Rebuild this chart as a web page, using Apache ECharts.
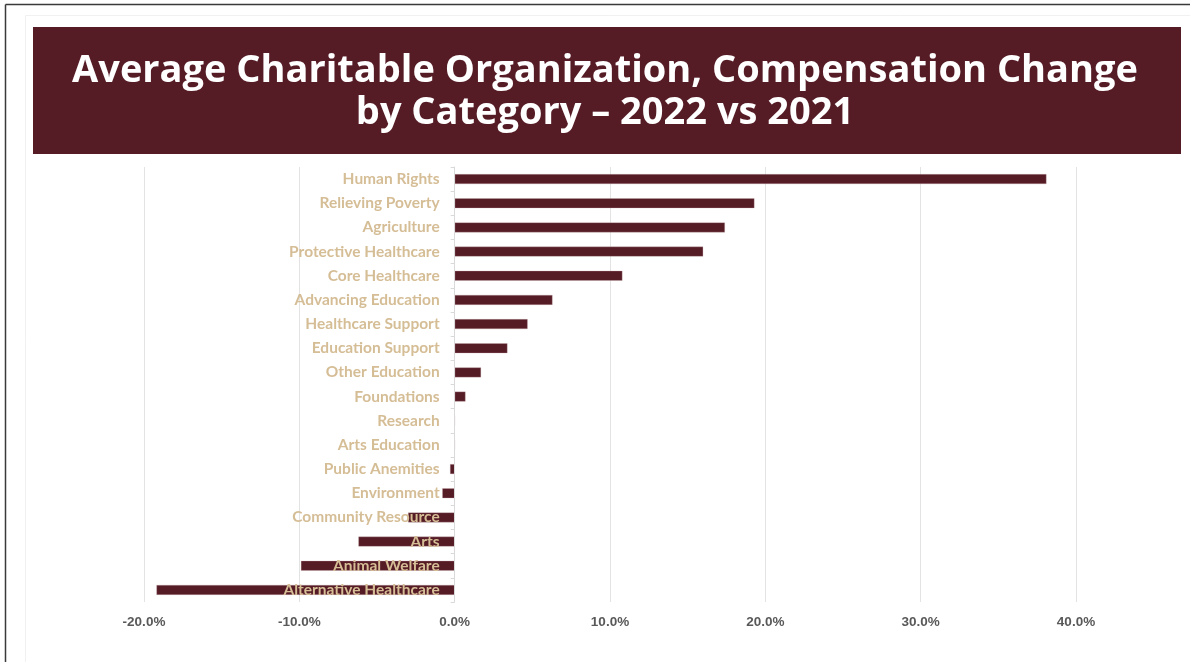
<!DOCTYPE html>
<html>
<head>
<meta charset="utf-8">
<script src="https://cdn.jsdelivr.net/npm/echarts@6/dist/echarts.min.js"></script>
<style>
  html, body { margin: 0; padding: 0; background: #ffffff; }
  #chart { width: 1190px; height: 662px; }
</style>
</head>
<body>
<div id="chart"></div>
<script>
// Categories, top to bottom
const categories = [
  'Human Rights', 'Relieving Poverty', 'Agriculture', 'Protective Healthcare',
  'Core Healthcare', 'Advancing Education', 'Healthcare Support', 'Education Support',
  'Other Education', 'Foundations', 'Research', 'Arts Education',
  'Public Anemities', 'Environment', 'Community Resource', 'Arts',
  'Animal Welfare', 'Alternative Healthcare'
];
// Average compensation change 2022 vs 2021, in percent
const changePct = [
  38.1, 19.3, 17.4, 16.0,
  10.8, 6.3, 4.7, 3.4,
  1.7, 0.7, 0, 0,
  -0.3, -0.8, -3.0, -6.2,
  -9.9, -19.2
];
// Value axis ticks, in percent
const tickMin = -20;
const tickMax = 40;
const tickStep = 10;

const MAROON = '#561c26';
const TAN = '#d5bd96';

// plot area
const GRID = { left: 144, right: 114, top: 167, bottom: 60 };
const plotWidth = 1190 - GRID.left - GRID.right;
// the category axis sits on the zero line of the value axis
const zeroOffset = -plotWidth * (0 - tickMin) / (tickMax - tickMin);

const chart = echarts.init(document.getElementById('chart'), null, { renderer: 'canvas' });

chart.setOption({
  backgroundColor: '#ffffff',
  animation: false,
  title: {
    text: 'Average Charitable Organization, Compensation Change\nby Category \u2013 2022 vs 2021',
    left: 600,
    top: 45,
    textAlign: 'center',
    textStyle: {
      color: '#ffffff',
      fontFamily: 'Open Sans',
      fontWeight: 'bold',
      fontSize: 38,
      lineHeight: 42
    }
  },
  graphic: [
    // page frame (top and left edges)
    { type: 'line', z: 0, shape: { x1: 5.5, y1: 4.5, x2: 1190, y2: 4.5 }, style: { stroke: '#3a3a3a', lineWidth: 1.5 } },
    { type: 'line', z: 0, shape: { x1: 5.5, y1: 4.5, x2: 5.5, y2: 662 }, style: { stroke: '#3a3a3a', lineWidth: 1.5 } },
    // faint chart-area outline
    { type: 'rect', z: 0, shape: { x: 25.5, y: 15.5, width: 1180, height: 700 }, style: { fill: 'none', stroke: '#f1f1f1', lineWidth: 1 } },
    // title banner
    { type: 'rect', z: 0, shape: { x: 33, y: 27, width: 1148, height: 127 }, style: { fill: MAROON } }
  ],
  grid: {
    left: GRID.left,
    right: GRID.right,
    top: GRID.top,
    bottom: GRID.bottom,
    containLabel: false,
    outerBoundsMode: 'none'
  },
  xAxis: {
    type: 'value',
    min: tickMin,
    max: tickMax,
    interval: tickStep,
    z: 0,
    axisLine: { show: false },
    axisTick: { show: false },
    splitLine: { show: true, lineStyle: { color: '#e3e3e3', width: 1 } },
    axisLabel: {
      margin: 13,
      color: '#595959',
      fontFamily: 'Liberation Sans',
      fontWeight: 'bold',
      fontSize: 13.5,
      formatter: v => v.toFixed(1) + '%'
    }
  },
  yAxis: {
    type: 'category',
    data: categories,
    inverse: true,
    position: 'left',
    offset: zeroOffset,
    z: 5,
    axisLine: { show: true, onZero: false, lineStyle: { color: '#d9d9d9', width: 1 } },
    axisTick: { show: true, length: 4, lineStyle: { color: '#d9d9d9' } },
    splitLine: { show: false },
    axisLabel: {
      margin: 15,
      color: TAN,
      fontFamily: 'Lato',
      fontWeight: 'bold',
      fontSize: 15.5
    }
  },
  series: [{
    type: 'bar',
    data: changePct,
    barWidth: 10,
    z: 2,
    itemStyle: { color: MAROON, borderColor: 'rgba(200,170,175,0.6)', borderWidth: 0.5 }
  }]
});
</script>
</body>
</html>
